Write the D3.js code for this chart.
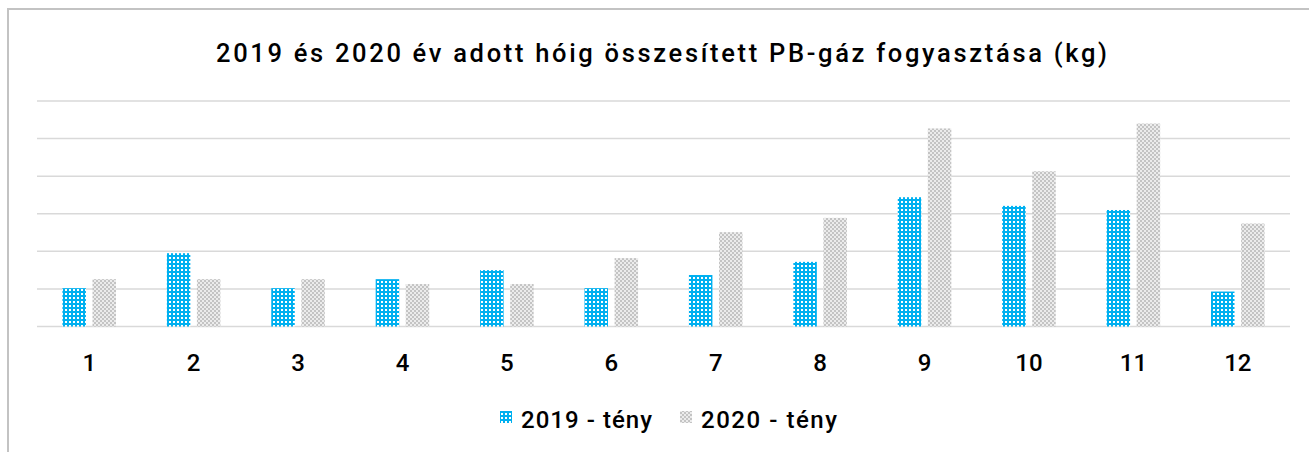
<!DOCTYPE html>
<html><head><meta charset="utf-8">
<script src="https://cdn.jsdelivr.net/npm/d3@7"></script>
<style>body{margin:0;background:#fff;} svg{display:block;}</style>
</head><body>
<svg id="c" width="1309" height="452"></svg>
<script>
const months = ["1","2","3","4","5","6","7","8","9","10","11","12"];
const seriesNames = ["2019 - tény","2020 - tény"];
const values2019 = [510, 975, 510, 630, 750, 510, 685, 860, 1720, 1605, 1550, 465];
const values2020 = [630, 630, 630, 565, 565, 910, 1255, 1445, 2635, 2065, 2700, 1370];
const yTicks = [0, 500, 1000, 1500, 2000, 2500, 3000];
const title = "2019 és 2020 év adott hóig összesített PB-gáz fogyasztása (kg)";

(function(){
const svg = d3.select("#c");
const font = "Roboto, 'DejaVu Sans', sans-serif";
const defs = svg.append("defs");
const p1 = defs.append("pattern").attr("id","pBlue").attr("patternUnits","userSpaceOnUse").attr("width",4).attr("height",4);
p1.append("rect").attr("width",4).attr("height",4).attr("fill","#00b0f0");
p1.append("rect").attr("x",1).attr("y",1).attr("width",2).attr("height",2).attr("fill","#ffffff");
const p2 = defs.append("pattern").attr("id","pGrey").attr("patternUnits","userSpaceOnUse").attr("width",4).attr("height",4);
p2.append("rect").attr("width",4).attr("height",4).attr("fill","#ececec");
p2.append("rect").attr("x",0).attr("y",0).attr("width",2).attr("height",2).attr("fill","#c4c4c4");
p2.append("rect").attr("x",2).attr("y",2).attr("width",2).attr("height",2).attr("fill","#c4c4c4");
const fills = ["url(#pBlue)","url(#pGrey)"];

svg.append("rect").attr("x",8).attr("y",9).attr("width",1400).attr("height",600)
  .attr("fill","none").attr("stroke","#c3c3c3").attr("stroke-width",2);

const pl = 37, pr = 1290, pt = 101, pb = 326.5;
const x = d3.scaleBand().domain(months).range([pl,pr]).padding(0);
const y = d3.scaleLinear().domain([0,3000]).range([pb, pt]);

svg.append("g").selectAll("line").data(yTicks).join("line")
  .attr("x1",pl).attr("x2",pr).attr("y1",d=>y(d)).attr("y2",d=>y(d))
  .attr("stroke","#d9d9d9").attr("stroke-width",1.5);

const bw = x.bandwidth()*0.225, gap = x.bandwidth()*0.063;
const series = [values2019, values2020];
series.forEach((vals,si)=>{
  svg.append("g").selectAll("rect").data(vals).join("rect")
    .attr("x",(d,i)=> x(months[i]) + x.bandwidth()/2 + (si===0 ? -gap/2-bw : gap/2))
    .attr("y",d=>y(d)).attr("width",bw).attr("height",d=>pb-y(d))
    .attr("fill",fills[si]);
});

const xAxis = svg.append("g").attr("transform",`translate(0,${pb})`)
  .call(d3.axisBottom(x).tickSize(0).tickPadding(0));
xAxis.select(".domain").remove();
xAxis.selectAll("text").attr("y",44).attr("dy",0).attr("font-family",font)
  .attr("font-size",24).attr("font-weight",500).attr("fill","#000");

svg.append("text").attr("x",216).attr("y",62).attr("text-anchor","start")
  .attr("font-family",font).attr("font-size",25.5).attr("font-weight",500).attr("fill","#000")
  .attr("textLength",891).attr("lengthAdjust","spacing")
  .text(title);

const lg = svg.append("g");
const legX = [500, 680];
const legW = [131, 136];
seriesNames.forEach((n,i)=>{
  lg.append("rect").attr("x",legX[i]).attr("y",411).attr("width",12).attr("height",12).attr("fill",fills[i]);
  lg.append("text").attr("x",legX[i]+21).attr("y",428).attr("font-family",font)
    .attr("font-size",24).attr("font-weight",500).attr("fill","#000")
    .attr("textLength",legW[i]).attr("lengthAdjust","spacing").text(n);
});
})();
</script>
</body></html>
